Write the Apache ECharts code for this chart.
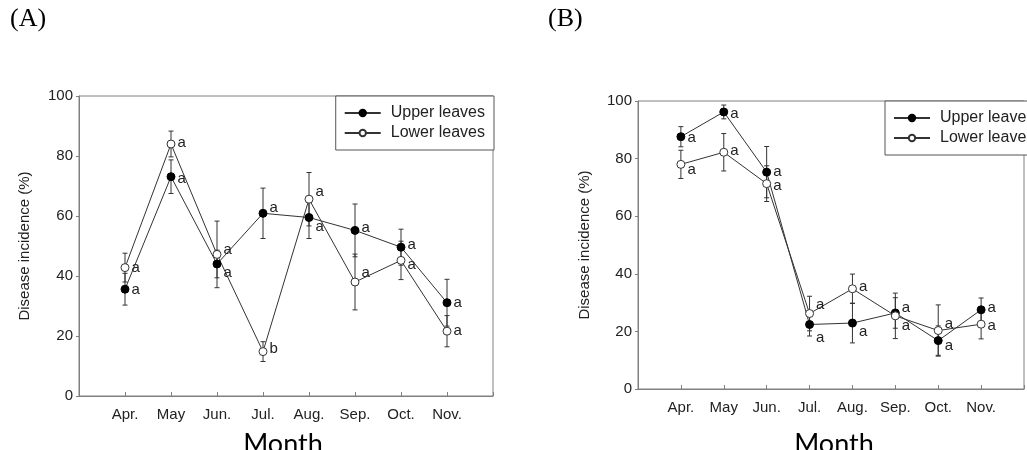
<!DOCTYPE html>
<html>
<head>
<meta charset="utf-8">
<script src="https://cdn.jsdelivr.net/npm/echarts@6/dist/echarts.min.js"></script>
<style>
  html, body { margin: 0; padding: 0; background: #fff; }
  #chart { width: 1027px; height: 450px; }
</style>
</head>
<body>
<div id="chart"></div>
<script>
// Month categories shared by both panels
const months = ['Apr.', 'May', 'Jun.', 'Jul.', 'Aug.', 'Sep.', 'Oct.', 'Nov.'];
const yTicks = [0, 20, 40, 60, 80, 100];

// Panel (A): disease incidence (%) with standard errors
const upperA    = [35.6, 73.1, 44.0, 60.9, 59.5, 55.2, 49.6, 31.1];
const upperAErr = [5.3, 5.6, 4.6, 8.4, 7.0, 8.8, 6.0, 7.8];
const lowerA    = [42.8, 84.0, 47.2, 14.8, 65.6, 38.0, 45.2, 21.6];
const lowerAErr = [4.8, 4.3, 11.1, 3.3, 8.9, 9.3, 6.4, 5.2];
const lettersUpperA = ['a', 'a', 'a', 'a', 'a', 'a', 'a', 'a'];
const lettersLowerA = ['a', 'a', 'a', 'b', 'a', 'a', 'a', 'a'];

// Panel (B)
const upperB    = [87.6, 96.2, 75.3, 22.4, 22.9, 26.4, 16.8, 27.5];
const upperBErr = [3.5, 2.4, 8.9, 4.0, 6.9, 5.3, 5.1, 4.1];
const lowerB    = [78.0, 82.2, 71.3, 26.2, 34.8, 25.4, 20.3, 22.5];
const lowerBErr = [4.9, 6.5, 6.2, 6.0, 5.1, 7.9, 8.9, 5.1];
const lettersUpperB = ['a', 'a', 'a', 'a', 'a', 'a', 'a', 'a'];
const lettersLowerB = ['a', 'a', 'a', 'a', 'a', 'a', 'a', 'a'];

// Vertical nudges (px) of the significance letters so they don't collide
const nudgeUpperA = [1, 2, 9, -5, 9, -3, -2, 0];
const nudgeLowerA = [0, -1, -5, -3, -7, -9, 4, 0];
const nudgeUpperB = [1, 2, 0, 13, 9, -5, 5, -2];
const nudgeLowerB = [5, -1, 2, -9, -2, 10, -7, 2];

const INK = '#222';
const AXIS = '#808080';
const LINE = '#333';
const FONT = '"Liberation Sans", Arial, sans-serif';

function points(vals, letters, nudges) {
  return vals.map((v, i) => ({
    value: [i + 1, v],
    label: { formatter: letters[i], offset: [0, nudges[i]] }
  }));
}

function errData(vals, errs) {
  return vals.map((v, i) => [i + 1, v, errs[i]]);
}

function renderErr(params, api) {
  const x = api.value(0), y = api.value(1), e = api.value(2);
  const top = api.coord([x, y + e]);
  const bot = api.coord([x, y - e]);
  const c = 2.5;
  const st = { stroke: LINE, lineWidth: 1 };
  return {
    type: 'group',
    children: [
      { type: 'line', shape: { x1: top[0], y1: top[1], x2: bot[0], y2: bot[1] }, style: st },
      { type: 'line', shape: { x1: top[0] - c, y1: top[1], x2: top[0] + c, y2: top[1] }, style: st },
      { type: 'line', shape: { x1: bot[0] - c, y1: bot[1], x2: bot[0] + c, y2: bot[1] }, style: st }
    ]
  };
}

function lineSeries(name, idx, data, filled) {
  return {
    name: name,
    type: 'line',
    xAxisIndex: idx,
    yAxisIndex: idx,
    data: data,
    z: 3,
    symbol: 'circle',
    symbolSize: 8,
    showAllSymbol: true,
    lineStyle: { color: LINE, width: 1 },
    itemStyle: filled
      ? { color: '#000', borderColor: '#000', borderWidth: 1 }
      : { color: '#fff', borderColor: '#333', borderWidth: 1 },
    label: {
      show: true,
      position: 'right',
      distance: 2,
      fontFamily: FONT,
      fontSize: 15,
      color: INK
    },
    emphasis: { disabled: true },
    animation: false
  };
}

function errSeries(name, idx, data) {
  return {
    name: name,
    type: 'custom',
    xAxisIndex: idx,
    yAxisIndex: idx,
    data: data,
    z: 1,
    renderItem: renderErr,
    encode: { x: 0, y: 1 },
    silent: true,
    animation: false
  };
}

function xAxis(gridIndex) {
  return {
    type: 'value',
    gridIndex: gridIndex,
    min: 0,
    max: 9,
    interval: 1,
    axisLine: { show: true, lineStyle: { color: AXIS, width: 1 } },
    axisTick: { show: true, inside: true, length: 4, lineStyle: { color: AXIS } },
    axisLabel: {
      fontFamily: FONT,
      fontSize: 15,
      color: INK,
      margin: 11,
      formatter: v => (v >= 1 && v <= months.length ? months[v - 1] : '')
    },
    splitLine: { show: false }
  };
}

function yAxis(gridIndex, gap) {
  return {
    type: 'value',
    gridIndex: gridIndex,
    min: yTicks[0],
    max: yTicks[yTicks.length - 1],
    interval: 20,
    name: 'Disease incidence (%)',
    nameLocation: 'middle',
    nameGap: gap,
    nameTextStyle: { fontFamily: FONT, fontSize: 15, color: INK },
    axisLine: { show: true, lineStyle: { color: AXIS, width: 1 } },
    axisTick: { show: true, inside: false, length: 3, lineStyle: { color: AXIS } },
    axisLabel: { fontFamily: FONT, fontSize: 15, color: INK, margin: 6 },
    splitLine: { show: false }
  };
}

function legend(pos) {
  return Object.assign({
    data: ['Upper leaves', 'Lower leaves'],
    orient: 'vertical',
    align: 'left',
    itemWidth: 36,
    itemHeight: 8,
    itemGap: 4,
    padding: [9, 9, 9, 8],
    borderColor: '#555',
    borderWidth: 1,
    borderRadius: 0,
    backgroundColor: '#fff',
    selectedMode: false,
    textStyle: { fontFamily: FONT, fontSize: 16, color: INK, lineHeight: 16, padding: [0, 0, 0, 5] }
  }, pos);
}

const chart = echarts.init(document.getElementById('chart'), null, { renderer: 'canvas' });

chart.setOption({
  animation: false,
  backgroundColor: '#fff',
  grid: [
    { left: 79, top: 96, right: 534, bottom: 54, show: true, borderColor: AXIS, borderWidth: 1, backgroundColor: 'transparent' },
    { left: 638, top: 101, right: -13, bottom: 61, show: true, borderColor: AXIS, borderWidth: 1, backgroundColor: 'transparent' }
  ],
  xAxis: [xAxis(0), xAxis(1)],
  yAxis: [yAxis(0, 47), yAxis(1, 46)],
  legend: [
    legend({ right: 533, top: 96 }),
    legend({ left: 885, top: 101 })
  ],
  series: [
    errSeries('errUpperA', 0, errData(upperA, upperAErr)),
    errSeries('errLowerA', 0, errData(lowerA, lowerAErr)),
    lineSeries('Upper leaves', 0, points(upperA, lettersUpperA, nudgeUpperA), true),
    lineSeries('Lower leaves', 0, points(lowerA, lettersLowerA, nudgeLowerA), false),
    errSeries('errUpperB', 1, errData(upperB, upperBErr)),
    errSeries('errLowerB', 1, errData(lowerB, lowerBErr)),
    lineSeries('Upper leaves', 1, points(upperB, lettersUpperB, nudgeUpperB), true),
    lineSeries('Lower leaves', 1, points(lowerB, lettersLowerB, nudgeLowerB), false)
  ],
  graphic: [
    { type: 'text', left: 10, top: 6, style: { text: '(A)', font: '26px "Liberation Serif", "Times New Roman", serif', fill: '#000' } },
    { type: 'text', left: 548, top: 6, style: { text: '(B)', font: '26px "Liberation Serif", "Times New Roman", serif', fill: '#000' } },
    { type: 'text', x: 283, y: 458, style: { text: 'Month', font: '27px Lato, "Liberation Sans", sans-serif', fill: '#000', align: 'center', verticalAlign: 'bottom' } },
    { type: 'text', x: 834, y: 458, style: { text: 'Month', font: '27px Lato, "Liberation Sans", sans-serif', fill: '#000', align: 'center', verticalAlign: 'bottom' } }
  ]
});
</script>
</body>
</html>
